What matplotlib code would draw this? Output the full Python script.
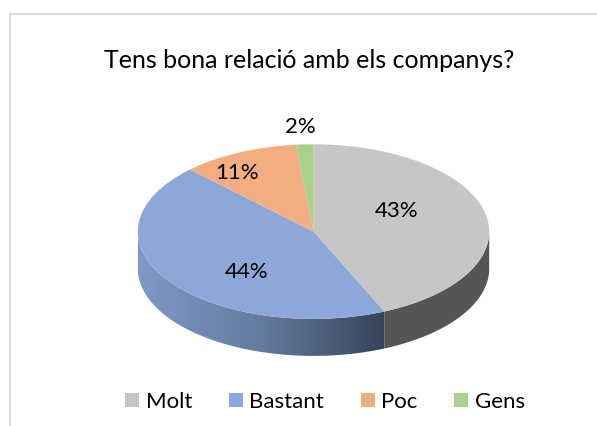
# -*- coding: utf-8 -*-
# Pie chart with a fake 3D side wall
import numpy as np
import matplotlib
matplotlib.use('Agg')
import matplotlib.pyplot as plt
from matplotlib.colors import LinearSegmentedColormap
from matplotlib.lines import Line2D
from matplotlib.patches import Polygon

categories = ['Molt', 'Bastant', 'Poc', 'Gens']
values = [43.4, 44.2, 10.8, 1.6]
title = 'Tens bona relació amb els companys?'

colors = ['#c6c6c6', '#8da7d8', '#f2ae80', '#a9d18e']
label_pos = [(0.474, 0.236), (-0.38, -0.459), (-0.437, 0.675), (-0.077, 1.198)]

W, H = 597, 426
cx, cy = 313.5, 231.6   # pie centre in pixels
rx, ry = 175.7, 87.3    # pie radii in pixels
depth = 37 / ry

plt.rcParams['font.family'] = ['Lato', 'DejaVu Sans']

fig = plt.figure(figsize=(W / 100, H / 100), dpi=100)
ax = fig.add_axes([0, 0, 1, 1])

wedges, _ = ax.pie(values, colors=colors, startangle=90, counterclock=False,
                   radius=1, wedgeprops={'linewidth': 0, 'zorder': 3})
ax.set_aspect('auto')
ax.set_xlim(-cx / rx, (W - cx) / rx)
ax.set_ylim((cy - H) / ry, cy / ry)


def wall(t0, t1):
    # side wall between two clockwise angles from the top, in degrees
    t = np.radians(np.linspace(t0, t1, 200))
    x, y = np.sin(t), np.cos(t)
    pts = np.r_[np.c_[x, y], np.c_[x, y - depth][::-1]]
    return Polygon(pts, closed=True, facecolor='none', edgecolor='none', transform=ax.transData)


split = values[0] / sum(values) * 360

# dark grey part of the wall
grey = wall(90, split)
grey.set_facecolor('#555555')
grey.set_zorder(2)
ax.add_patch(grey)

# blue part has a gradient, lighter to the left
blue = wall(split, 270)
ax.add_patch(blue)
cmap = LinearSegmentedColormap.from_list('side', ['#8099c6', '#647a9f', '#364459'])
xl = -1
xr = np.sin(np.radians(split))
img = ax.imshow(np.linspace(0, 1, 256)[None, :], cmap=cmap, aspect='auto', zorder=2,
                extent=[xl, xr, -1 - depth, 0], interpolation='bilinear')
img.set_clip_path(blue)
ax.set_xlim(-cx / rx, (W - cx) / rx)
ax.set_ylim((cy - H) / ry, cy / ry)

for val, pos in zip(values, label_pos):
    ax.text(pos[0], pos[1], '%d%%' % round(val), ha='center', va='center',
            fontsize=16, color='black', zorder=5)

fig.text(309 / W, 1 - 61 / H, title, ha='center', va='center', fontsize=18, color='black')

leg = fig.legend(wedges, categories, loc='center', bbox_to_anchor=(325 / W, 1 - 402 / H), ncol=4,
                 frameon=False, fontsize=16, handlelength=0.63, handleheight=0.63,
                 handletextpad=0.3, columnspacing=1.64, borderpad=0, borderaxespad=0)

# chart border, only left and top show in the crop
border = '#d4d4d4'
fig.add_artist(Line2D([10 / W, 10 / W], [0, 1 - 14 / H], color=border, lw=1.2))
fig.add_artist(Line2D([10 / W, 1], [1 - 14 / H, 1 - 14 / H], color=border, lw=1.2))

fig.savefig('out.png', dpi=100)
